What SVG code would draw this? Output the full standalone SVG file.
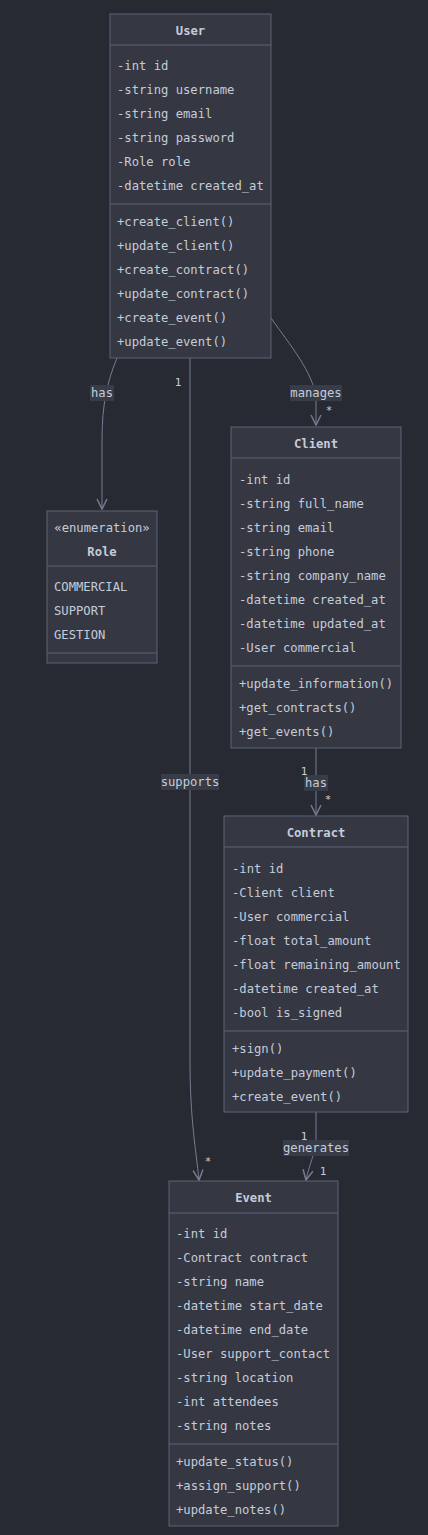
<svg xmlns="http://www.w3.org/2000/svg" width="428" height="1535" viewBox="0 0 428 1535">
<defs>
<style>
.bg{fill:#282a33}
.box{fill:#353843;stroke:#5b6376;stroke-width:1}
.div{stroke:#5b6376;stroke-width:1}
.t{font-family:"DejaVu Sans Mono","Liberation Mono",monospace;font-size:12.2px;fill:#c5ccd9}
.title{font-weight:bold;text-anchor:middle}
.c{text-anchor:middle}
.edge{fill:none;stroke:#747d91;stroke-width:1}
.lbg{fill:#383c48}
.lbl{font-family:"DejaVu Sans Mono","Liberation Mono",monospace;font-size:12.2px;fill:#c5ccd9;text-anchor:middle}
.card{font-family:"DejaVu Sans Mono","Liberation Mono",monospace;font-size:11px;fill:#c5ccd9;text-anchor:middle}
</style>
<marker id="arr" viewBox="0 0 12 12" refX="11" refY="6" markerWidth="12" markerHeight="12" markerUnits="userSpaceOnUse" orient="auto">
<path d="M1,1 L11,6 L1,11" fill="none" stroke="#747d91" stroke-width="1.5"/>
</marker>
</defs>
<rect class="bg" x="0" y="0" width="428" height="1535"/>

<g id="connectors">
<path class="edge" d="M117,358 C107,382 102,405 102,440 L102,509" marker-end="url(#arr)"/>
<path class="edge" d="M271,318 C290,345 313,372 316,398 L316,425" marker-end="url(#arr)"/>
<path class="edge" d="M190,358 L190,1060 C190,1120 196,1150 199,1180" marker-end="url(#arr)"/>
<path class="edge" d="M316,748 L316,815" marker-end="url(#arr)"/>
<path class="edge" d="M316,1112 L316,1138 C315,1155 309,1165 306,1180" marker-end="url(#arr)"/>

<rect class="lbg" x="90" y="385" width="24" height="16"/>
<text class="lbl" x="102" y="397">has</text>
<rect class="lbg" x="290" y="385" width="52" height="16"/>
<text class="lbl" x="316" y="397">manages</text>
<text class="card" x="329" y="414">*</text>
<text class="card" x="178" y="386">1</text>
<rect class="lbg" x="161" y="774" width="58" height="16"/>
<text class="lbl" x="190" y="786">supports</text>
<text class="card" x="208" y="1165">*</text>
<rect class="lbg" x="304" y="775" width="24" height="16"/>
<text class="lbl" x="316" y="787">has</text>
<text class="card" x="304" y="775">1</text>
<text class="card" x="328" y="803">*</text>
<rect class="lbg" x="283" y="1140" width="66" height="16"/>
<text class="lbl" x="316" y="1152">generates</text>
<text class="card" x="304" y="1140">1</text>
<text class="card" x="323" y="1175">1</text>
</g>

<g id="User">
<rect class="box" x="110" y="14" width="161" height="344"/>
<line class="div" x1="110" y1="45" x2="271" y2="45"/>
<line class="div" x1="110" y1="204" x2="271" y2="204"/>
<text class="t title" x="190.5" y="35">User</text>
<text class="t" x="117" y="70">-int id</text>
<text class="t" x="117" y="94">-string username</text>
<text class="t" x="117" y="118">-string email</text>
<text class="t" x="117" y="142">-string password</text>
<text class="t" x="117" y="166">-Role role</text>
<text class="t" x="117" y="190">-datetime created_at</text>
<text class="t" x="117" y="226">+create_client()</text>
<text class="t" x="117" y="250">+update_client()</text>
<text class="t" x="117" y="274">+create_contract()</text>
<text class="t" x="117" y="298">+update_contract()</text>
<text class="t" x="117" y="322">+create_event()</text>
<text class="t" x="117" y="346">+update_event()</text>
</g>

<g id="Role">
<rect class="box" x="47" y="511" width="110" height="152"/>
<line class="div" x1="47" y1="566" x2="157" y2="566"/>
<line class="div" x1="47" y1="653" x2="157" y2="653"/>
<text class="t c" x="102" y="532">«enumeration»</text>
<text class="t title" x="102" y="556">Role</text>
<text class="t" x="54" y="591">COMMERCIAL</text>
<text class="t" x="54" y="615">SUPPORT</text>
<text class="t" x="54" y="639">GESTION</text>
</g>

<g id="Client">
<rect class="box" x="231" y="427" width="170" height="321"/>
<line class="div" x1="231" y1="458" x2="401" y2="458"/>
<line class="div" x1="231" y1="666" x2="401" y2="666"/>
<text class="t title" x="316" y="448">Client</text>
<text class="t" x="239" y="484">-int id</text>
<text class="t" x="239" y="508">-string full_name</text>
<text class="t" x="239" y="532">-string email</text>
<text class="t" x="239" y="556">-string phone</text>
<text class="t" x="239" y="580">-string company_name</text>
<text class="t" x="239" y="604">-datetime created_at</text>
<text class="t" x="239" y="628">-datetime updated_at</text>
<text class="t" x="239" y="652">-User commercial</text>
<text class="t" x="239" y="688">+update_information()</text>
<text class="t" x="239" y="712">+get_contracts()</text>
<text class="t" x="239" y="736">+get_events()</text>
</g>

<g id="Contract">
<rect class="box" x="224" y="816" width="184" height="296"/>
<line class="div" x1="224" y1="847" x2="408" y2="847"/>
<line class="div" x1="224" y1="1031" x2="408" y2="1031"/>
<text class="t title" x="316" y="837">Contract</text>
<text class="t" x="232" y="873">-int id</text>
<text class="t" x="232" y="897">-Client client</text>
<text class="t" x="232" y="921">-User commercial</text>
<text class="t" x="232" y="945">-float total_amount</text>
<text class="t" x="232" y="969">-float remaining_amount</text>
<text class="t" x="232" y="993">-datetime created_at</text>
<text class="t" x="232" y="1017">-bool is_signed</text>
<text class="t" x="232" y="1053">+sign()</text>
<text class="t" x="232" y="1077">+update_payment()</text>
<text class="t" x="232" y="1101">+create_event()</text>
</g>

<g id="Event">
<rect class="box" x="169" y="1181" width="169" height="345"/>
<line class="div" x1="169" y1="1213" x2="338" y2="1213"/>
<line class="div" x1="169" y1="1444" x2="338" y2="1444"/>
<text class="t title" x="253.5" y="1202">Event</text>
<text class="t" x="176" y="1238">-int id</text>
<text class="t" x="176" y="1262">-Contract contract</text>
<text class="t" x="176" y="1286">-string name</text>
<text class="t" x="176" y="1310">-datetime start_date</text>
<text class="t" x="176" y="1334">-datetime end_date</text>
<text class="t" x="176" y="1358">-User support_contact</text>
<text class="t" x="176" y="1382">-string location</text>
<text class="t" x="176" y="1406">-int attendees</text>
<text class="t" x="176" y="1430">-string notes</text>
<text class="t" x="176" y="1466">+update_status()</text>
<text class="t" x="176" y="1490">+assign_support()</text>
<text class="t" x="176" y="1514">+update_notes()</text>
</g>
</svg>
